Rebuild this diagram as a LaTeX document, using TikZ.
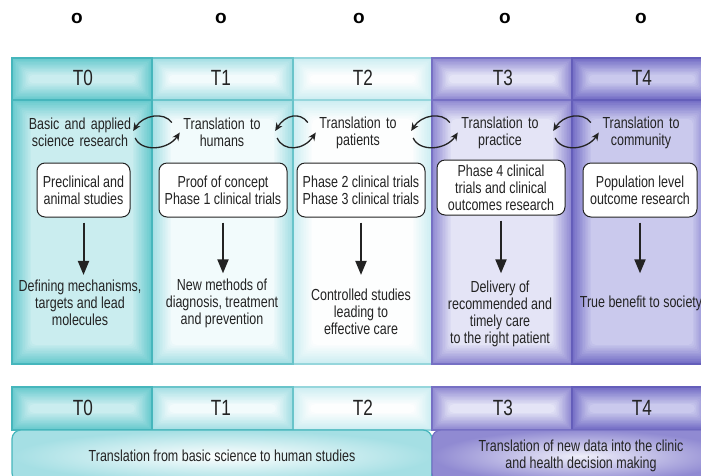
\documentclass[tikz,border=0pt]{standalone}
\usepackage{fontspec}
\setmainfont{Liberation Sans}[FakeStretch=0.78]
\newfontfamily\ringfont{Liberation Sans}
\usetikzlibrary{arrows.meta, positioning, calc}

\definecolor{cin0}{RGB}{202,237,239}
\definecolor{cout0}{RGB}{104,202,206}
\definecolor{cline0}{RGB}{70,182,188}
\definecolor{cin1}{RGB}{242,251,252}
\definecolor{cout1}{RGB}{165,223,228}
\definecolor{cline1}{RGB}{105,196,202}
\definecolor{cin2}{RGB}{253,254,254}
\definecolor{cout2}{RGB}{205,238,242}
\definecolor{cline2}{RGB}{150,214,220}
\definecolor{cin3}{RGB}{228,228,246}
\definecolor{cout3}{RGB}{144,138,210}
\definecolor{cline3}{RGB}{118,112,196}
\definecolor{cin4}{RGB}{202,201,237}
\definecolor{cout4}{RGB}{116,110,198}
\definecolor{cline4}{RGB}{100,94,186}
\definecolor{ink}{RGB}{35,35,35}

\newcommand\bodyfont{\fontsize{16}{17}\selectfont}
\newcommand\headfont{\fontsize{22}{24}\selectfont}
% cell with a light centre fading to a darker rim
\newcommand\glowcell[5]{%
  \pgfmathsetmacro\st{min(1.6, abs(#5-#3)/30)}
  \foreach \k in {0,...,12} {
    \pgfmathtruncatemacro\pct{\k*100/12}
    \pgfmathsetmacro\rc{\k*0.35}
    \fill[cin#1!\pct!cout#1, rounded corners=\rc pt] ($(#2,#3)+(\k*\st,\k*\st)$) rectangle ($(#4,#5)-(\k*\st,\k*\st)$);
  }
  \draw[cline#1, line width=1.2pt] (#2,#3) rectangle (#4,#5);
}

\begin{document}
\begin{tikzpicture}[x=1pt, y=-1pt,
  head/.style={font=\headfont, text=ink, inner sep=1pt},
  ring/.style={font=\fontsize{19}{19}\ringfont\bfseries, inner sep=0pt},
  trans/.style={font=\bodyfont, text=ink, align=center, text width=120pt, inner sep=0pt},
  stage/.style={draw=ink, fill=white, rounded corners=8pt, line width=1pt, font=\bodyfont, text=ink, align=center, minimum height=54pt, inner sep=1pt},
  result/.style={font=\bodyfont, text=ink, align=center, inner xsep=1pt, inner ysep=5pt},
  godown/.style={-{Triangle[length=14pt, width=11pt]}, line width=2pt, draw=ink},
  roundtrip/.style={-{Stealth[length=8pt, width=7pt]}, line width=1.3pt, draw=ink},
  band/.style={rounded corners=9pt, line width=1.2pt, font=\bodyfont, text=ink, align=center, inner sep=0pt, minimum height=52pt}
]
  \useasboundingbox (0,0) rectangle (701,475);

  % column cells of the panel and of the strip below
  \foreach \i/\xl/\xr in {2/293/432, 1/152/293, 0/12/152, 3/432/572, 4/572/712} {
    \glowcell{\i}{\xl}{58}{\xr}{100}
    \glowcell{\i}{\xl}{100}{\xr}{364}
    \glowcell{\i}{\xl}{387}{\xr}{430}
  }

  % marks and stage labels
  \foreach \i/\x in {0/77, 1/221, 2/359, 3/505, 4/641}
    \node[ring] (o\i) at (\x,18) {o};
  \foreach \i/\x in {0/83, 1/221, 2/363, 3/503, 4/642} {
    \node[head] (h\i) at (\x,78) {T\i};
    \node[head] (bh\i) at (\x,408) {T\i};
  }

  % translation steps
  \node[trans] (tr0) at (80,132.5)  {Basic and applied\\science research};
  \node[trans] (tr1) at (222,132.5) {Translation to\\humans};
  \node[trans] (tr2) at (358,132.5) {Translation to\\patients};
  \node[trans] (tr3) at (500,132.5) {Translation to\\practice};
  \node[trans] (tr4) at (641,132.5) {Translation to\\community};

  \foreach \a/\b in {0/1, 1/2, 2/3, 3/4} {
    \draw[roundtrip] ([shift={(10,-10)}]tr\b.west) .. controls +(-8,-11) and +(10,-16) .. ([shift={(-7,-1.5)}]tr\a.east);
    \draw[roundtrip] ([shift={(-5,5.5)}]tr\a.east) .. controls +(6,14) and +(-12,18) .. ([shift={(18,0)}]tr\b.west);
  }

  % research boxes
  \node[stage, minimum width=93pt]  (b0) at (83.5,190) {Preclinical and\\animal studies};
  \node[stage, minimum width=128pt] (b1) at (223,190)  {Proof of concept\\Phase 1 clinical trials};
  \node[stage, minimum width=128pt] (b2) at (361,190)  {Phase 2 clinical trials\\Phase 3 clinical trials};
  \node[stage, minimum width=128pt, minimum height=55pt] (b3) at (501,187.5) {Phase 4 clinical\\trials and clinical\\outcomes research};
  \node[stage, minimum width=114pt] (b4) at (640,190)  {Population level\\outcome research};

  % outcomes
  \node[result] (r0) at (80,303)    {Defining mechanisms,\\targets and lead\\molecules};
  \node[result] (r1) at (222,303)   {New methods of\\diagnosis, treatment\\and prevention};
  \node[result] (r2) at (361,312)   {Controlled studies\\leading to\\effective care};
  \node[result] (r3) at (500,313.5) {Delivery of\\recommended and\\timely care\\to the right patient};
  \node[result] (r4) at (641,303)   {True benefit to society};

  \foreach \i/\s in {0/0, 1/0, 2/9, 3/2, 4/17}
    \draw[godown, shorten <=5pt, shorten >=\s pt] (b\i.south) -- (b\i.south |- r\i.north);

  % summary bands
  \node[band, draw=cline0, shading=radial, inner color=white, outer color=cout1, minimum width=420pt] (basic) at (222,456) {Translation from basic science to human studies};
  \node[band, draw=cline3, shading=radial, inner color=cin3!60!white, outer color=cout3, minimum width=298pt] (clinic) at (581,456) {Translation of new data into the clinic\\and health decision making};
\end{tikzpicture}
\end{document}
